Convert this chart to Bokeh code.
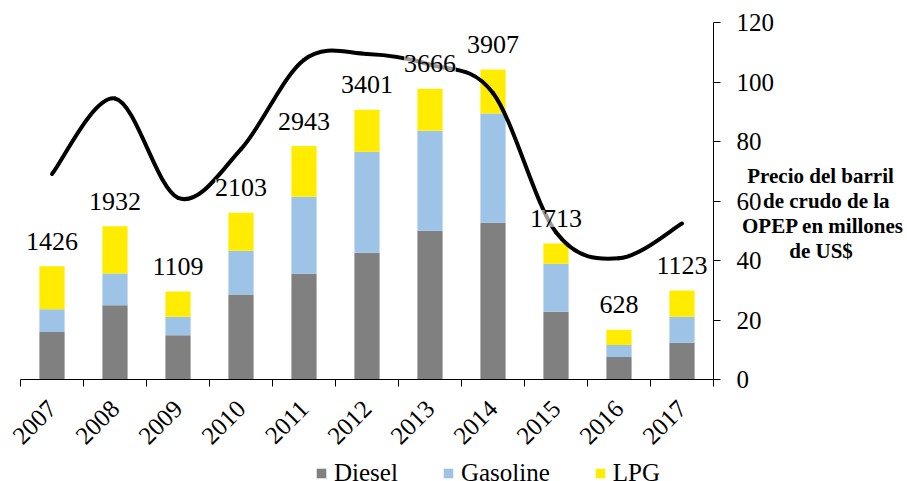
import math
import numpy as np
from bokeh.plotting import figure
from bokeh.layouts import column
from bokeh.models import (ColumnDataSource, Range1d, LinearAxis, FixedTicker,
                          LabelSet, Legend, LegendItem)
from bokeh.embed import file_html
from bokeh.resources import INLINE

years = ["2007", "2008", "2009", "2010", "2011", "2012", "2013", "2014", "2015", "2016", "2017"]
diesel = [600, 937, 559, 1072, 1332, 1597, 1874, 1975, 853, 285, 462]
gasoline = [287, 400, 231, 550, 971, 1273, 1261, 1379, 605, 151, 328]
lpg = [539, 595, 319, 481, 640, 531, 531, 553, 255, 192, 333]
totals = [1426, 1932, 1109, 2103, 2943, 3401, 3666, 3907, 1713, 628, 1123]
oil_price = [69.08, 94.45, 61.06, 77.45, 107.46, 109.45, 105.87, 96.29, 49.49, 40.76, 52.43]
price_ticks = [0, 20, 40, 60, 80, 100, 120]
series = ["Diesel", "Gasoline", "LPG"]
NB = "\u00a0"
axis_title = "\n".join([NB, NB + "Precio del barril", NB * 4 + "de crudo de la",
                        "OPEP en millones", NB * 9 + "de US$"])

FONT = "Liberation Serif"
n = len(years)
xs = [i + 0.5 for i in range(n)]
colors = ["#808080", "#9DC3E6", "#FFEC00"]

src = ColumnDataSource(dict(x=xs, Diesel=diesel, Gasoline=gasoline, LPG=lpg,
                            total=totals, lab=[str(t) for t in totals]))

p = figure(width=907, height=454, x_range=Range1d(0, n), y_range=Range1d(0, 4500),
           output_backend="svg", toolbar_location=None, y_axis_location=None,
           min_border_left=20, min_border_right=193, min_border_top=22, min_border_bottom=75)
p.outline_line_color = None
p.xgrid.visible = False
p.ygrid.visible = False
p.background_fill_color = "white"
p.border_fill_color = "white"

p.extra_y_ranges = {"price": Range1d(0, 120)}

# stacked bars
bars = p.vbar_stack(series, x="x", width=0.4, color=colors, line_color=None, source=src)

# smoothed oil price line (Bezier segments through the data points)
px = np.array(xs, dtype=float)
py = np.array(oil_price, dtype=float)
x0s, y0s, x1s, y1s, cx0, cy0, cx1, cy1 = [], [], [], [], [], [], [], []
for i in range(n - 1):
    a = max(i - 1, 0)
    d = min(i + 2, n - 1)
    x0s.append(px[i]); y0s.append(py[i])
    x1s.append(px[i + 1]); y1s.append(py[i + 1])
    cx0.append(px[i] + (px[i + 1] - px[a]) / 6.0)
    cy0.append(py[i] + (py[i + 1] - py[a]) / 6.0)
    cx1.append(px[i + 1] - (px[d] - px[i]) / 6.0)
    cy1.append(py[i + 1] - (py[d] - py[i]) / 6.0)
p.bezier(x0=x0s, y0=y0s, x1=x1s, y1=y1s, cx0=cx0, cy0=cy0, cx1=cx1, cy1=cy1,
         line_color="black", line_width=4, line_cap="round", y_range_name="price")

# x axis
xa = p.xaxis[0]
xa.ticker = FixedTicker(ticks=xs, minor_ticks=list(range(n + 1)))
xa.major_label_overrides = {x: y for x, y in zip(xs, years)}
xa.major_label_orientation = math.pi / 4
xa.major_tick_line_color = None
xa.major_tick_out = 0
xa.major_tick_in = 0
xa.minor_tick_out = 7
xa.minor_tick_in = 0
xa.minor_tick_line_color = "black"
xa.axis_line_color = "black"
xa.major_label_standoff = 18
xa.major_label_text_font = FONT
xa.major_label_text_font_size = "25px"
xa.major_label_text_color = "black"

# right axis with horizontal multi-line title
ra = LinearAxis(y_range_name="price", ticker=FixedTicker(ticks=price_ticks))
ra.major_tick_in = 0
ra.major_tick_out = 7
ra.minor_tick_line_color = None
ra.axis_line_color = "black"
ra.major_tick_line_color = "black"
ra.major_label_standoff = 16
ra.major_label_text_font = FONT
ra.major_label_text_font_size = "25px"
ra.major_label_text_color = "black"
ra.axis_label = axis_title
ra.axis_label_orientation = "horizontal"
ra.axis_label_standoff = -35
ra.axis_label_text_font = FONT
ra.axis_label_text_font_size = "21px"
ra.axis_label_text_font_style = "bold"
ra.axis_label_text_color = "black"
ra.axis_label_text_line_height = 1.05
p.add_layout(ra, "right")

# data labels
labels = LabelSet(x="x", y="total", text="lab", source=src, y_offset=25,
                  text_align="center", text_baseline="middle",
                  text_font=FONT, text_font_size="26px", text_color="black",
                  background_fill_color="white", background_fill_alpha=0.6)
p.add_layout(labels)

# legend strip (separate figure below; its renderers are hidden, only the legend shows)
lg = figure(width=907, height=27, x_range=Range1d(100, 100 + n), y_range=Range1d(-4500, -4400),
            output_backend="svg", toolbar_location=None,
            x_axis_location=None, y_axis_location=None,
            min_border_left=0, min_border_right=0, min_border_top=0, min_border_bottom=0)
lg.outline_line_color = None
lg.xgrid.visible = False
lg.ygrid.visible = False
lg.border_fill_color = "white"
lg.background_fill_color = "white"
lbars = lg.vbar_stack(series, x="x", width=0.4, color=colors, line_color=None, source=src)
for r in lbars:
    r.visible = False
legend = Legend(items=[LegendItem(label=lab, renderers=[r]) for lab, r in zip(series, lbars)],
                orientation="horizontal", location=(295, -6),
                label_text_font=FONT, label_text_font_size="25px",
                label_text_font_style="normal", label_text_color="black",
                glyph_width=12, glyph_height=12, label_standoff=7, spacing=44,
                padding=0, margin=0, border_line_color=None,
                background_fill_alpha=0, inactive_fill_alpha=0)
lg.add_layout(legend, "center")

layout = column(p, lg, spacing=0)
open("out.html", "w").write(file_html(layout, INLINE))
